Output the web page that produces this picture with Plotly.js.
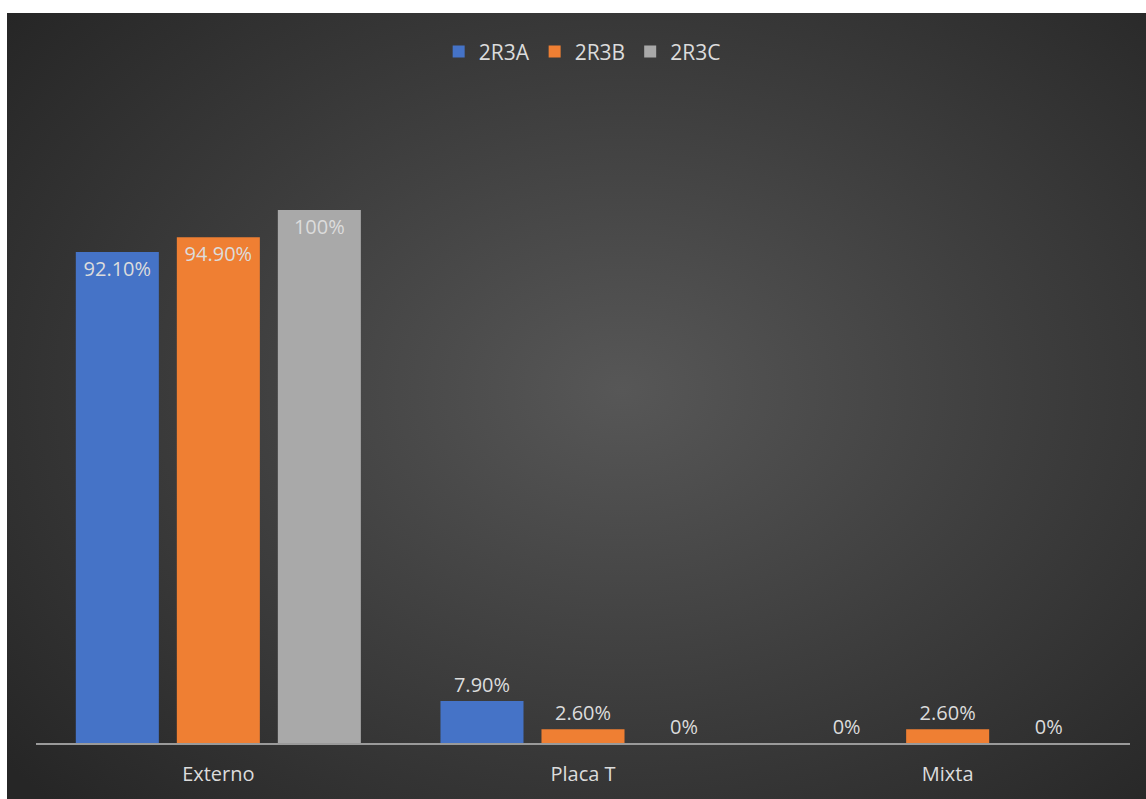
<!DOCTYPE html>
<html>
<head>
<meta charset="utf-8">
<script src="https://cdn.plot.ly/plotly-3.0.1.min.js"></script>
<style>
  html, body { margin:0; padding:0; background:#ffffff; }
  #bg { position:absolute; left:7px; top:13px; width:1139px; height:786px;
        background: radial-gradient(ellipse 70% 75% at 54% 48%, #575757 0%, #3e3e3e 50%, #262626 100%); }
  #chart { position:absolute; left:0; top:0; width:1146px; height:799px; }
</style>
</head>
<body>
<div id="bg"></div>
<div id="chart"></div>
<script>
const categories = ["Externo", "Placa T", "Mixta"];
const series = ["2R3A", "2R3B", "2R3C"];
const valA = [92.1, 7.9, 0];
const valB = [94.9, 2.6, 2.6];
const valC = [100, 0, 0];
const labA = ["92.10%", "7.90%", "0%"];
const labB = ["94.90%", "2.60%", "2.60%"];
const labC = ["100%", "0%", "0%"];

const colors = ["#4573c7", "#ef7f33", "#a9a9a9"];
const vals = [valA, valB, valC];
const labs = [labA, labB, labC];
const textCol = "#dcdcdc";
const font = "Open Sans, Noto Sans, sans-serif";

const traces = series.map((s, i) => ({
  type: "bar",
  name: s,
  x: categories,
  y: vals[i],
  text: labs[i],
  texttemplate: "%{text}",
  textposition: vals[i].map(v => v > 50 ? "inside" : "outside"),
  insidetextanchor: "end",
  textangle: 0,
  constraintext: "none",
  cliponaxis: false,
  textfont: { family: font, size: 20, color: textCol },
  insidetextfont: { family: font, size: 20, color: textCol },
  outsidetextfont: { family: font, size: 20, color: textCol },
  marker: { color: colors[i], line: { width: 0 } },
  hoverinfo: "skip"
}));

const layout = {
  width: 1146, height: 799,
  paper_bgcolor: "rgba(0,0,0,0)",
  plot_bgcolor: "rgba(0,0,0,0)",
  margin: { l: 36, r: 16, t: 210, b: 56 },
  barmode: "group",
  bargap: 0.169,
  bargroupgap: 0.178,
  showlegend: true,
  legend: {
    orientation: "h", x: 0.508, xanchor: "center", xref: "container",
    y: 0.935, yanchor: "middle", yref: "container",
    font: { family: font, size: 21, color: textCol },
    bgcolor: "rgba(0,0,0,0)", itemwidth: 30, traceorder: "normal"
  },
  xaxis: {
    showline: true, linecolor: "#9a9a9a", linewidth: 2,
    showgrid: false, zeroline: false, ticks: "",
    tickfont: { family: font, size: 20, color: textCol },
    ticklabelstandoff: 12
  },
  yaxis: {
    range: [0, 100], visible: false, showgrid: false, zeroline: false
  },
  font: { family: font, color: textCol }
};

Plotly.newPlot("chart", traces, layout, { displayModeBar: false, staticPlot: true });
</script>
</body>
</html>
